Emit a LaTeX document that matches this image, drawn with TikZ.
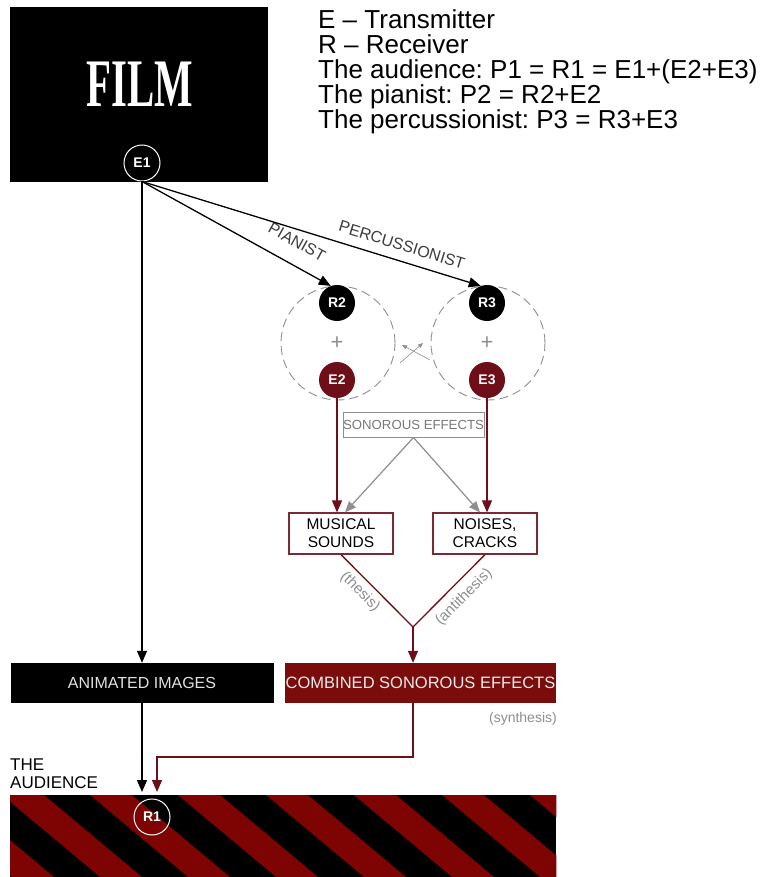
\documentclass[tikz,border=0pt]{standalone}
\usepackage{fontspec}
\setmainfont{Liberation Sans}
\newfontfamily\filmfont{Liberation Serif}
\usetikzlibrary{arrows.meta,calc}
\frenchspacing
\definecolor{maroon}{HTML}{6E0E18}
\definecolor{boxred}{HTML}{7A0C0C}
\definecolor{stripered}{HTML}{7E0404}
\definecolor{outlinered}{HTML}{7A2A36}
\definecolor{midgray}{HTML}{8E8E8E}
\definecolor{labelgray}{HTML}{3C3C3C}
\tikzset{
  px/.style={font=\fontsize{#1}{#1}\selectfont},
  circ/.style={circle, minimum size=36pt, inner sep=0pt, text=white,
    font=\bfseries\fontsize{14}{14}\selectfont},
  whitering/.style={circ, draw=white, line width=1pt},
  blackdot/.style={circ, fill=black},
  reddot/.style={circ, fill=maroon},
  arr/.style={line width=1.3pt, -{Triangle[length=12pt,width=10pt]}},
  redarr/.style={arr, color=maroon},
  redline/.style={line width=1.3pt, color=maroon},
  grayarr/.style={line width=1.2pt, color=midgray, -{Triangle[length=11pt,width=9pt]}},
  smallarr/.style={line width=0.6pt, color=midgray, -{Triangle[length=5pt,width=4pt]}},
  legend/.style={anchor=base west, inner sep=0pt, px=26},
  outbox/.style={draw=outlinered, line width=1.2pt, fill=white, minimum width=104pt,
    minimum height=41pt, inner sep=0pt, align=center, font=\fontsize{15.5}{18}\selectfont},
  graylabel/.style={text=midgray, inner sep=0pt, px=15},
  dashring/.style={circle, draw=midgray, dash pattern=on 9pt off 5pt, line width=0.9pt, minimum size=114pt},
}
\begin{document}
\begin{tikzpicture}[x=1pt,y=1pt]
\useasboundingbox (0,0) rectangle (776,-877);
\fill[white] (0,0) rectangle (776,-877);

% FILM box
\node[fill=black, anchor=north west, minimum width=258pt, minimum height=175pt, inner sep=0pt] (film) at (10,-7) {};
\node[anchor=base, text=white, inner sep=0pt, font=\filmfont\bfseries\fontsize{68}{68}\selectfont] (filmtitle) at (140,-107) {\scalebox{0.6}[1]{FILM}};
\node[whitering] (E1) at (142,-163) {E1};

% legend
\node[legend] (l1) at (318,-29) {E – Transmitter};
\node[legend] (l2) at (318,-54) {R – Receiver};
\node[legend] (l3) at (318,-79) {The audience: P1 = R1 = E1+(E2+E3)};
\node[legend] (l4) at (318,-104) {The pianist: P2 = R2+E2};
\node[legend] (l5) at (318,-129) {The percussionist: P3 = R3+E3};

% musicians
\node[dashring] (p2) at (338,-343) {};
\node[dashring] (p3) at (488,-343) {};
\node[blackdot] (R2) at (337,-303) {R2};
\node[reddot] (E2) at (337,-380) {E2};
\node[blackdot] (R3) at (487,-303) {R3};
\node[reddot] (E3) at (487,-380) {E3};
\node[text=midgray, px=22, inner sep=0pt] (plus2) at (337,-343) {+};
\node[text=midgray, px=22, inner sep=0pt] (plus3) at (487,-343) {+};

% small crossing arrows
\coordinate (x1s) at (430,-360);
\coordinate (x1e) at (402,-345);
\coordinate (x2s) at (400,-363);
\coordinate (x2e) at (423,-343);
\draw[smallarr] (x1s) -- (x1e);
\draw[smallarr] (x2s) -- (x2e);

% E1 arrows
\node[text=labelgray, px=16, inner sep=0pt, rotate=-29] (lpian) at (297,-242) {PIANIST};
\node[text=labelgray, px=16, inner sep=0pt, rotate=-17.2] (lperc) at (402,-245) {PERCUSSIONIST};
\draw[arr] (E1.south) -- (R2.110);
\draw[arr] (E1.south) -- (R3.110);

% sonorous effects
\node[draw=midgray, line width=1pt, fill=white, minimum width=141pt, minimum height=25pt, inner sep=0pt, text=midgray!85!black, px=13.2] (son) at (413.5,-424.5) {SONOROUS EFFECTS};
\node[outbox] (musical) at (341,-533.5) {MUSICAL\\SOUNDS};
\node[outbox] (noises) at (485,-533.5) {NOISES,\\CRACKS};
\draw[redarr] (E2.south) -- (E2.south |- musical.north);
\draw[redarr] (E3.south) -- (E3.south |- noises.north);
\draw[grayarr] (son.south) -- ($(musical.north)+(4,0)$);
\draw[grayarr] (son.south) -- ($(noises.north)+(-5,0)$);

% synthesis
\coordinate (jn) at (413,-627);
\draw[redline] (musical.south) -- (jn) -- (noises.south);
\node[graylabel, rotate=-45] (thesis) at (360,-592) {(thesis)};
\node[graylabel, rotate=45] (anti) at (464,-597) {(antithesis)};

\node[fill=black, minimum width=263pt, minimum height=40pt, inner sep=0pt, text=white!88!black, px=16] (animated) at (142,-683) {ANIMATED IMAGES};
\node[fill=boxred, minimum width=271pt, minimum height=40pt, inner sep=0pt, text=white!92!black, px=16.5] (combined) at (420.5,-683) {COMBINED SONOROUS EFFECTS};
\node[graylabel, anchor=base east, px=14] (synth) at (557,-722) {(synthesis)};

\draw[redarr] (jn) -- (jn |- combined.north);
\draw[arr] (E1.south) -- (E1.south |- animated.north);

% audience
\node[anchor=base west, inner sep=0pt, px=17] (aud1) at (10,-770) {THE};
\node[anchor=base west, inner sep=0pt, px=17] (aud2) at (10,-788) {AUDIENCE};

\node[anchor=north west, minimum width=546pt, minimum height=82pt, inner sep=0pt] (bar) at (10,-795) {};
\begin{scope}
  \clip (bar.south west) rectangle (bar.north east);
  \fill[black] (bar.south west) rectangle (bar.north east);
  \foreach \k in {-3,...,7} {
    \fill[stripered] ({2+88*\k},-795) -- ({44+88*\k},-795) -- ({142+88*\k},-877) -- ({100+88*\k},-877) -- cycle;
  }
\end{scope}
\node[whitering] (R1) at (152,-817) {R1};

\coordinate (blacktip) at (142,-792);
\coordinate (turnA) at (413,-757);
\coordinate (turnB) at (157,-757);
\coordinate (redtip) at (157,-792);
\draw[arr] (animated.south) -- (blacktip);
\draw[redarr] (jn |- combined.south) -- (turnA) -- (turnB) -- (redtip);
\end{tikzpicture}
\end{document}
